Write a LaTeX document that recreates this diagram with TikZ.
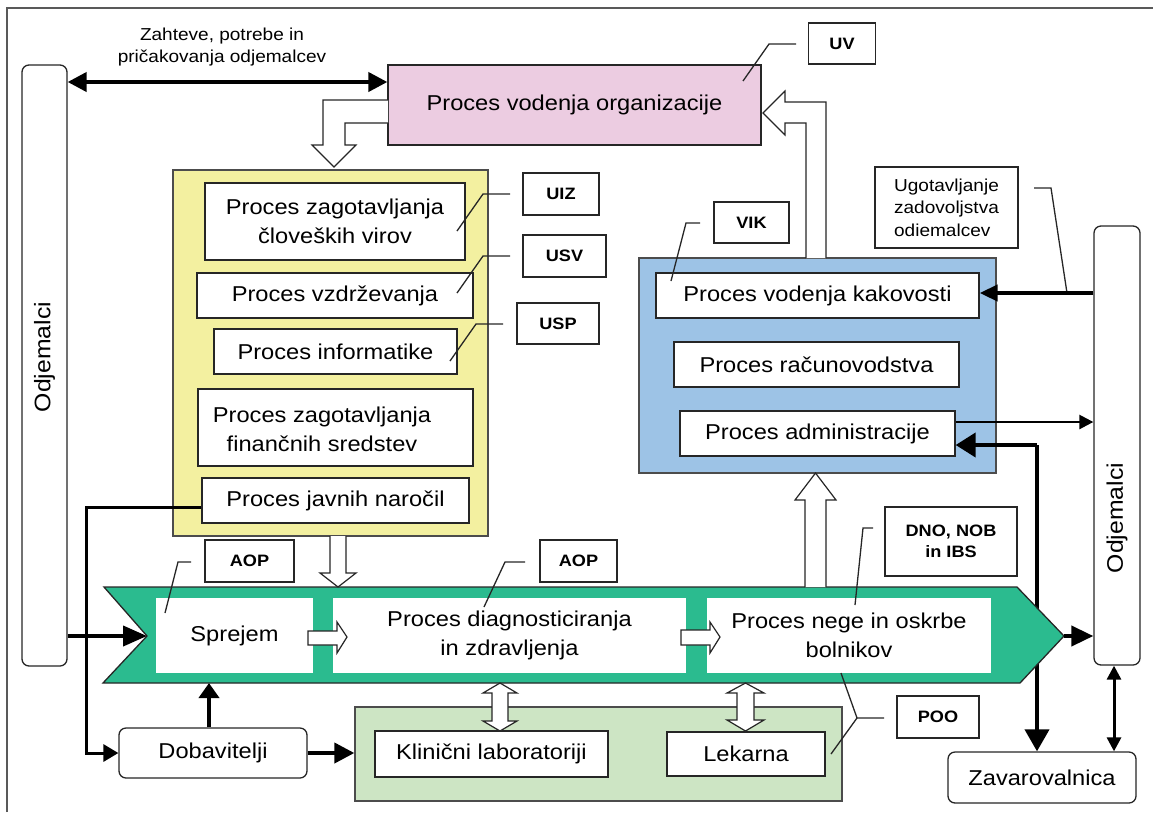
\documentclass[tikz,border=0pt]{standalone}
\usepackage{fontspec}
\setmainfont[FakeStretch=1.1]{Liberation Sans}
\usetikzlibrary{arrows.meta,calc}
\definecolor{pinkc}{RGB}{236,204,225}
\definecolor{yellowc}{RGB}{243,240,160}
\definecolor{bluec}{RGB}{157,195,230}
\definecolor{greenA}{RGB}{43,187,143}
\definecolor{lgreen}{RGB}{205,229,196}
\newcommand{\mainf}{\fontsize{21.5}{29}\selectfont}
\newcommand{\smallf}{\fontsize{17.3}{22.5}\selectfont}
\newcommand{\boldf}{\fontsize{16.5}{21}\selectfont\bfseries}
\newcommand{\odjf}{\fontsize{22.5}{27}\selectfont}
\begin{document}
\begin{tikzpicture}[x=1pt,y=-1pt,
  box/.style={draw=black!85,line width=1.3pt,fill=white,inner sep=0pt,font=\mainf,align=center},
  wbox/.style={draw=none,fill=white,inner sep=0pt,font=\mainf,align=center},
  rbox/.style={box,rounded corners=7pt},
  tagbox/.style={draw=black!85,line width=1.4pt,fill=white,inner sep=0pt,font=\boldf,align=center},
  panel/.style={draw=black!70,line width=1.3pt,inner sep=0pt},
  callout/.style={draw=black!85,line width=1.3pt},
  hollow/.style={draw=black!85,line width=1.2pt,fill=white,line join=miter},
  thickarrow/.style={line width=4pt,-{Triangle[length=18pt,width=20pt]}},
  medarrow/.style={line width=3pt,-{Triangle[length=16pt,width=18pt]}}
]
\useasboundingbox (0,0) rectangle (1153,812);
% frame
\draw[black!65,line width=2pt] (6.5,812) -- (6.5,8) -- (1153,8);

% side customers and insurer
\node[rbox,minimum width=45pt,minimum height=601pt] (lodj) at (44.5,365.5) {};
\node[font=\odjf,rotate=90,inner sep=0pt] (lodjt) at (44.5,357) {Odjemalci};
\node[rbox,minimum width=46pt,minimum height=439pt] (rodj) at (1117,445.5) {};
\node[font=\odjf,rotate=90,inner sep=0pt] (rodjt) at (1117,518) {Odjemalci};
\node[rbox,minimum width=188pt,minimum height=51pt] (zav) at (1042,777.5) {Zavarovalnica};

% top
\node[box,fill=pinkc,minimum width=373pt,minimum height=80pt] (org) at (574.5,105) {Proces vodenja organizacije};
\node[tagbox,minimum width=67pt,minimum height=41pt] (uv) at (842,43.5) {UV};
\draw[callout] (796,44) -- (769,44) -- (743,81);
\node[font=\smallf,align=center,inner sep=0pt] (req) at (222,47) {Zahteve, potrebe in\\pričakovanja odjemalcev};
\draw[line width=4pt,{Triangle[length=19pt,width=19pt]}-{Triangle[length=19pt,width=19pt]}] (lodj.east |- 0,82) -- (org.west |- 0,82);

% yellow panel
\node[panel,fill=yellowc,minimum width=315pt,minimum height=366pt] (sup) at (330.5,353) {};
\node[box,minimum width=260pt,minimum height=77pt] (hr) at (335,221.5) {Proces zagotavljanja\\človeških virov};
\node[box,minimum width=276pt,minimum height=45pt] (vzd) at (335,295.5) {Proces vzdrževanja};
\node[box,minimum width=243pt,minimum height=45pt] (inf) at (335.5,351.5) {Proces informatike};
\node[box,minimum width=275pt,minimum height=77pt] (fin) at (335.5,427.5) {};
\node[font=\mainf,align=center,inner sep=0pt] (fint) at (322,429) {Proces zagotavljanja\\finančnih sredstev};
\node[box,minimum width=267pt,minimum height=45pt] (jav) at (335.5,500.5) {Proces javnih naročil};
\node[tagbox,minimum width=76pt,minimum height=42pt] (uiz) at (561,194) {UIZ};
\node[tagbox,minimum width=83pt,minimum height=42pt] (usv) at (564.5,256) {USV};
\node[tagbox,minimum width=82pt,minimum height=41pt] (usp) at (558,323.5) {USP};
\draw[callout] (510,194) -- (483,194) -- (457,231);
\draw[callout] (510,256) -- (483,256) -- (457,293);
\draw[callout] (503,324) -- (476,324) -- (450,361);

% blue panel
\node[panel,fill=bluec,minimum width=357pt,minimum height=215pt] (qual) at (817.5,365.5) {};
\node[box,minimum width=323pt,minimum height=45pt] (kak) at (817.5,295.5) {Proces vodenja kakovosti};
\node[box,minimum width=285pt,minimum height=45pt] (rac) at (816.5,364.5) {Proces računovodstva};
\node[box,minimum width=275pt,minimum height=45pt] (admn) at (817.5,433.5) {Proces administracije};
\node[tagbox,minimum width=75pt,minimum height=41pt] (vik) at (751.5,222.5) {VIK};
\draw[callout] (700,223) -- (686,223) -- (671,281);
\node[box,font=\smallf,align=left,minimum width=143pt,minimum height=81pt] (ugot) at (946.5,207.5) {Ugotavljanje\\zadovoljstva\\odiemalcev};
\draw[callout] (1034,188) -- (1051,188) -- (1067,293);

% hollow arrows at top
\draw[hollow] (388,100) -- (323,100) -- (323,145) -- (312,145) -- (334,167) -- (356,145) -- (345,145) -- (345,123) -- (388,123);
\draw[hollow] (826,258) -- (826,102) -- (785,102) -- (785,91) -- (763,113) -- (785,135) -- (785,123) -- (806,123) -- (806,258);

% insurance line runs behind the process arrow
\coordinate (jn) at (1037,445);
\draw[line width=4pt,-{Triangle[length=22pt,width=24pt]}] (jn) -- (zav.north -| jn);

% main green process arrow
\draw[draw=black!85,line width=1.3pt,fill=greenA] (104,587) -- (1017,587) -- (1064,636) -- (1020,683) -- (103,683) -- (147,636) -- cycle;
\coordinate (notch) at (147,636);
\coordinate (gtip) at (1064,636);
\node[wbox,minimum width=157pt,minimum height=75pt] (spr) at (234.5,635.5) {Sprejem};
\node[wbox,minimum width=353pt,minimum height=75pt] (dia) at (509.5,635.5) {Proces diagnosticiranja\\in zdravljenja};
\node[wbox,minimum width=284pt,minimum height=75pt] (neg) at (849,635.5) {Proces nege in oskrbe\\bolnikov};
\draw[hollow] (308,631) -- (337,631) -- (337,622) -- (347,637) -- (337,653) -- (337,645) -- (308,645) -- cycle;
\draw[hollow] (681,630) -- (710,630) -- (710,622) -- (720,637) -- (710,653) -- (710,645) -- (681,645) -- cycle;
\draw[hollow] (330,536) -- (330,573) -- (320,573) -- (338,587) -- (356,573) -- (346,573) -- (346,536);
\draw[hollow] (805,587) -- (805,500) -- (795,500) -- (815.5,473) -- (836,500) -- (826,500) -- (826,587);

\node[tagbox,minimum width=89pt,minimum height=42pt] (aop1) at (249.5,561) {AOP};
\node[tagbox,minimum width=77pt,minimum height=42pt] (aop2) at (578.5,561) {AOP};
\node[tagbox,minimum width=132pt,minimum height=69pt] (dno) at (951,541.5) {DNO, NOB\\in IBS};
\draw[callout] (191,562) -- (178,562) -- (165,613);
\draw[callout] (525,562) -- (505,562) -- (484,607);
\draw[callout] (873,528) -- (863,528) -- (855,605);

% bottom
\node[panel,fill=lgreen,minimum width=487pt,minimum height=94pt] (sup2) at (598.5,754) {};
\node[box,minimum width=233pt,minimum height=46pt] (kli) at (491.5,754) {Klinični laboratoriji};
\node[box,minimum width=158pt,minimum height=44pt] (lek) at (746,754) {Lekarna};
\node[rbox,minimum width=188pt,minimum height=50pt] (dob) at (213,753) {Dobavitelji};
\node[tagbox,minimum width=82pt,minimum height=42pt] (poo) at (938,717) {POO};
\draw[callout] (884,718) -- (857,718) -- (841,673);
\draw[callout] (857,718) -- (831,754);

% double hollow arrows
\draw[hollow] (500,683) -- (517,693) -- (508,693) -- (508,721) -- (517,721) -- (500,731) -- (483,721) -- (492,721) -- (492,693) -- (483,693) -- cycle;
\draw[hollow] (745.5,683) -- (764,693) -- (754,693) -- (754,720) -- (764,720) -- (745.5,731) -- (727,720) -- (737,720) -- (737,693) -- (727,693) -- cycle;

% connectors
\draw[medarrow,-{Triangle[length=15pt,width=17pt]}] (jav.west |- 0,507) -- (86,507) |- (dob.west);
\draw[thickarrow,-{Triangle[length=24pt,width=20pt]}] (lodj.east |- notch) -- (notch);
\draw[thickarrow,-{Triangle[length=15pt,width=20pt]}] (dob.north -| 209,0) -- (209,683);
\draw[thickarrow,-{Triangle[length=20pt,width=20pt]}] (dob.east) -- (sup2.west |- dob.east);
\draw[thickarrow,-{Triangle[length=22pt,width=20pt]}] (gtip) -- (rodj.west |- gtip);
\draw[line width=3pt,{Triangle[length=14pt,width=14pt]}-{Triangle[length=14pt,width=14pt]}] (rodj.south -| 1114,0) -- (zav.north -| 1114,0);
\draw[line width=4pt,-{Triangle[length=20pt,width=24pt]}] (jn) -- (admn.east |- jn);
\draw[line width=2.5pt,-{Triangle[length=14pt,width=14pt]}] (admn.east |- 0,422) -- (rodj.west |- 0,422);
\draw[line width=4pt,-{Triangle[length=18pt,width=16pt]}] (rodj.west |- 0,293) -- (kak.east |- 0,293);
\end{tikzpicture}
\end{document}
